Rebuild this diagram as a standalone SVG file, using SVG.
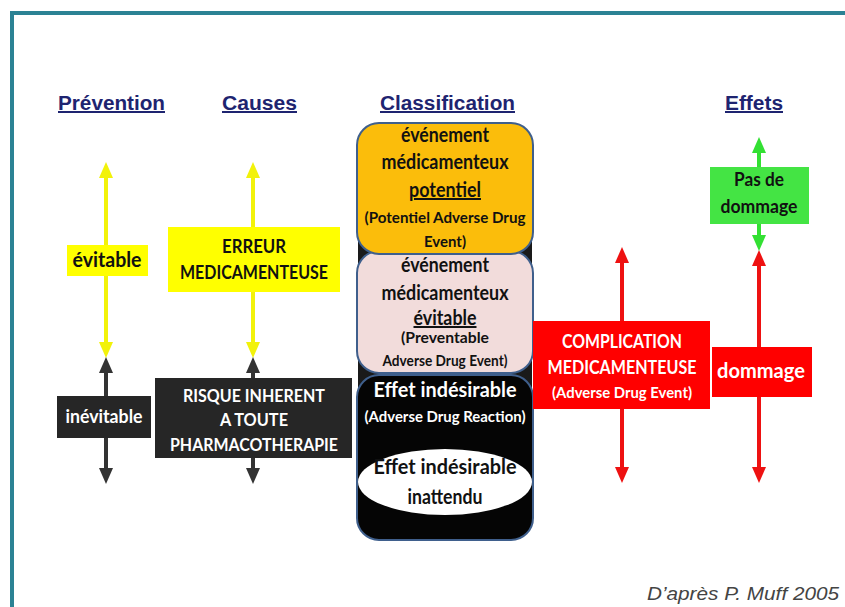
<svg xmlns="http://www.w3.org/2000/svg" width="845" height="607" viewBox="0 0 845 607">
  <style>
    .head { font-family: "Liberation Sans", Arial, sans-serif; font-weight: bold; font-size: 20px; fill: #1e2470; text-decoration: underline; }
    .t { font-family: Lato, "Liberation Sans", sans-serif; font-weight: bold; text-anchor: middle; }
    .dk { fill: #111; }
    .wh { fill: #fff; }
    .ln { stroke-width: 4; fill: none; }
  </style>
  <defs>
    <marker id="ah-yellow" viewBox="0 0 16 14" refX="11" refY="7" markerWidth="16" markerHeight="14" markerUnits="userSpaceOnUse" orient="auto-start-reverse">
      <path d="M0,0 L16,7 L0,14 z" fill="#f2f20a"/>
    </marker>
    <marker id="ah-dark" viewBox="0 0 16 14" refX="11" refY="7" markerWidth="16" markerHeight="14" markerUnits="userSpaceOnUse" orient="auto-start-reverse">
      <path d="M0,0 L16,7 L0,14 z" fill="#333"/>
    </marker>
    <marker id="ah-red" viewBox="0 0 16 14" refX="11" refY="7" markerWidth="16" markerHeight="14" markerUnits="userSpaceOnUse" orient="auto-start-reverse">
      <path d="M0,0 L16,7 L0,14 z" fill="#ee1111"/>
    </marker>
    <marker id="ah-green" viewBox="0 0 16 14" refX="11" refY="7" markerWidth="16" markerHeight="14" markerUnits="userSpaceOnUse" orient="auto-start-reverse">
      <path d="M0,0 L16,7 L0,14 z" fill="#33e033"/>
    </marker>
  </defs>

  <!-- page background and frame -->
  <rect width="845" height="607" fill="#fff"/>
  <path d="M12,607 L12,13 L845,13" fill="none" stroke="#2b8294" stroke-width="4"/>

  <!-- column headings -->
  <g id="headings">
    <text class="head" x="58" y="110" textLength="107" lengthAdjust="spacingAndGlyphs">Prévention</text>
    <text class="head" x="222" y="110" textLength="75" lengthAdjust="spacingAndGlyphs">Causes</text>
    <text class="head" x="380" y="110" textLength="135" lengthAdjust="spacingAndGlyphs">Classification</text>
    <text class="head" x="725" y="110" textLength="58" lengthAdjust="spacingAndGlyphs">Effets</text>
  </g>

  <!-- arrows -->
  <g id="connectors">
    <line class="ln" x1="106" y1="167" x2="106" y2="353" stroke="#f2f20a" marker-start="url(#ah-yellow)" marker-end="url(#ah-yellow)"/>
    <line class="ln" x1="106" y1="362" x2="106" y2="479" stroke="#333" marker-start="url(#ah-dark)" marker-end="url(#ah-dark)"/>
    <line class="ln" x1="253" y1="167" x2="253" y2="353" stroke="#f2f20a" marker-start="url(#ah-yellow)" marker-end="url(#ah-yellow)"/>
    <line class="ln" x1="253" y1="362" x2="253" y2="479" stroke="#333" marker-start="url(#ah-dark)" marker-end="url(#ah-dark)"/>
    <line class="ln" x1="622" y1="252" x2="622" y2="478" stroke="#ee1111" marker-start="url(#ah-red)" marker-end="url(#ah-red)"/>
    <line class="ln" x1="759" y1="255" x2="759" y2="478" stroke="#ee1111" marker-start="url(#ah-red)" marker-end="url(#ah-red)"/>
    <line class="ln" x1="759" y1="142" x2="759" y2="246" stroke="#33e033" marker-start="url(#ah-green)" marker-end="url(#ah-green)"/>
  </g>

  <!-- Prévention -->
  <g id="evitable">
    <rect x="67" y="245" width="81" height="31" fill="#ffff00"/>
    <text class="t dk" x="107" y="267" font-size="20" textLength="69" lengthAdjust="spacingAndGlyphs">évitable</text>
  </g>
  <g id="inevitable">
    <rect x="57" y="396" width="94" height="42" fill="#262626"/>
    <text class="t wh" x="104" y="423" font-size="19" textLength="77" lengthAdjust="spacingAndGlyphs">inévitable</text>
  </g>

  <!-- Causes -->
  <g id="erreur">
    <rect x="168" y="227" width="172" height="65" fill="#ffff00"/>
    <text class="t dk" x="254" y="253" font-size="18" textLength="64" lengthAdjust="spacingAndGlyphs">ERREUR</text>
    <text class="t dk" x="254" y="279" font-size="18" textLength="148" lengthAdjust="spacingAndGlyphs">MEDICAMENTEUSE</text>
  </g>
  <g id="risque">
    <rect x="155" y="378" width="197" height="80" fill="#262626"/>
    <text class="t wh" x="254" y="402" font-size="16.5" textLength="142" lengthAdjust="spacingAndGlyphs">RISQUE INHERENT</text>
    <text class="t wh" x="254" y="426" font-size="16.5" textLength="68" lengthAdjust="spacingAndGlyphs">A TOUTE</text>
    <text class="t wh" x="254" y="451" font-size="16.5" textLength="168" lengthAdjust="spacingAndGlyphs">PHARMACOTHERAPIE</text>
  </g>

  <!-- Classification -->
  <g id="classification-back">
    <rect x="358" y="240" width="174" height="150" fill="#1a1a1a"/>
  </g>
  <g id="effet-indesirable">
    <rect x="357" y="375" width="176" height="165" rx="22" fill="#050505" stroke="#3f5f8c" stroke-width="2"/>
    <text class="t wh" x="445" y="397" font-size="20" textLength="143" lengthAdjust="spacingAndGlyphs">Effet indésirable</text>
    <text class="t wh" x="445" y="422" font-size="15" textLength="161" lengthAdjust="spacingAndGlyphs">(Adverse Drug Reaction)</text>
  </g>
  <g id="inattendu">
    <ellipse cx="445" cy="482" rx="87" ry="33" fill="#fff"/>
    <text class="t dk" x="445" y="474" font-size="20" textLength="143" lengthAdjust="spacingAndGlyphs">Effet indésirable</text>
    <text class="t dk" x="445" y="504" font-size="20" textLength="75" lengthAdjust="spacingAndGlyphs">inattendu</text>
  </g>
  <g id="evenement-evitable">
    <rect x="357" y="251" width="176" height="122" rx="22" fill="#f2dcdb" stroke="#3f5f8c" stroke-width="2"/>
    <text class="t dk" x="445" y="272" font-size="20" textLength="88" lengthAdjust="spacingAndGlyphs">événement</text>
    <text class="t dk" x="445" y="300" font-size="20" textLength="127" lengthAdjust="spacingAndGlyphs">médicamenteux</text>
    <text class="t dk" x="445" y="325" font-size="20" textLength="63" lengthAdjust="spacingAndGlyphs" text-decoration="underline">évitable</text>
    <text class="t dk" x="445" y="343" font-size="14.5" textLength="88" lengthAdjust="spacingAndGlyphs">(Preventable</text>
    <text class="t dk" x="445" y="366" font-size="14.5" textLength="125" lengthAdjust="spacingAndGlyphs">Adverse Drug Event)</text>
  </g>
  <g id="evenement-potentiel">
    <rect x="357" y="123" width="176" height="131" rx="22" fill="#fbbd0b" stroke="#3f5f8c" stroke-width="2"/>
    <text class="t dk" x="445" y="142" font-size="20" textLength="88" lengthAdjust="spacingAndGlyphs">événement</text>
    <text class="t dk" x="445" y="169" font-size="20" textLength="127" lengthAdjust="spacingAndGlyphs">médicamenteux</text>
    <text class="t dk" x="445" y="197" font-size="20" textLength="72" lengthAdjust="spacingAndGlyphs" text-decoration="underline">potentiel</text>
    <text class="t dk" x="445" y="223" font-size="14.5" textLength="161" lengthAdjust="spacingAndGlyphs">(Potentiel Adverse Drug</text>
    <text class="t dk" x="445" y="247" font-size="14.5" textLength="42" lengthAdjust="spacingAndGlyphs">Event)</text>
  </g>

  <!-- Effets -->
  <g id="complication">
    <rect x="533" y="321" width="177" height="88" fill="#ff0000"/>
    <text class="t wh" x="622" y="348" font-size="18" textLength="120" lengthAdjust="spacingAndGlyphs">COMPLICATION</text>
    <text class="t wh" x="622" y="374" font-size="18" textLength="149" lengthAdjust="spacingAndGlyphs">MEDICAMENTEUSE</text>
    <text class="t wh" x="622" y="398" font-size="15.5" textLength="140" lengthAdjust="spacingAndGlyphs">(Adverse Drug Event)</text>
  </g>
  <g id="dommage">
    <rect x="712" y="347" width="100" height="50" fill="#ff0000"/>
    <text class="t wh" x="761" y="378" font-size="21" textLength="88" lengthAdjust="spacingAndGlyphs">dommage</text>
  </g>
  <g id="pas-de-dommage">
    <rect x="710" y="167" width="99" height="57" fill="#44e444"/>
    <text class="t dk" x="759" y="186" font-size="18" textLength="50" lengthAdjust="spacingAndGlyphs">Pas de</text>
    <text class="t dk" x="759" y="213" font-size="18" textLength="77" lengthAdjust="spacingAndGlyphs">dommage</text>
  </g>

  <!-- source -->
  <text x="647" y="600" font-family="'Liberation Sans', Arial, sans-serif" font-style="italic" font-size="19" fill="#444" textLength="192" lengthAdjust="spacingAndGlyphs">D’après P. Muff 2005</text>
</svg>
